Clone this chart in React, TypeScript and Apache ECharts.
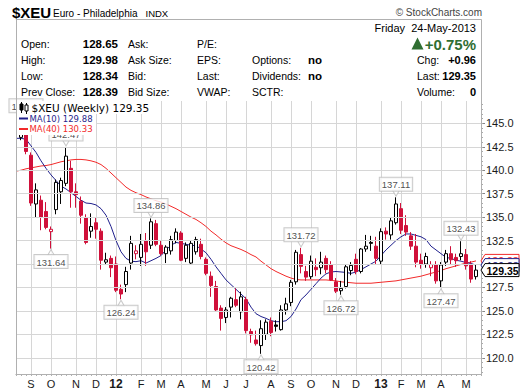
import React, { useEffect, useRef } from "react";
import * as echarts from "echarts";

// ---------- data ----------
const FIRST_WEEK_UTC = Date.UTC(2011, 7, 15); // Monday of first (empty) slot
const WEEK_COUNT = 94;
const PREV_CLOSE_BEFORE = 143.7;

const opens: (number | null)[] = [
  null, 143.5, 144.9, 141.6, 136.4, 136.8, 135.6, 133.45, 135.8, 137.7,
  138.6, 140.2, 137.7, 136.7, 134.9, 133.5, 134.4, 133.5, 130.2, 130.6,
  130.0, 127.3, 127.8, 130.1, 131.1, 130.7, 132.5, 132.0, 134.3, 132.0,
  131.1, 131.4, 132.5, 133.3, 130.6, 130.1, 131.3, 132.1, 130.5, 128.7,
  127.6, 125.3, 124.3, 125.4, 126.2, 124.9, 126.2, 122.8, 121.9, 121.3,
  122.5, 123.9, 123.5, 123.0, 125.1, 125.9, 128.1, 131.0, 129.2, 128.65,
  129.65, 129.6, 130.6, 129.9, 128.1, 127.15, 127.6, 129.3, 130.5, 129.2,
  131.6, 132.3, 131.9, 130.3, 133.5, 133.1, 134.4, 135.9, 134.1, 133.0,
  131.9, 130.4, 130.0, 129.6, 129.9, 128.2, 130.2, 131.1, 130.7, 130.8,
  131.0, 129.9, 128.65, null,
];
const highs: (number | null)[] = [
  null, 145.0, 145.49, 141.9, 138.6, 137.3, 136.6, 134.0, 139.0, 139.2,
  142.47, 141.0, 138.6, 137.2, 135.3, 135.4, 134.9, 133.8, 131.2, 130.9,
  130.8, 127.8, 129.7, 133.0, 132.0, 133.2, 133.3, 134.86, 134.7, 132.5,
  132.0, 133.0, 133.8, 133.5, 132.3, 132.5, 132.9, 132.7, 130.7, 129.2,
  128.2, 125.6, 125.4, 126.5, 127.4, 127.05, 126.5, 123.1, 122.9, 124.0,
  124.1, 124.3, 124.0, 125.6, 126.4, 128.3, 131.5, 131.72, 129.8, 130.9,
  130.6, 131.3, 130.9, 130.3, 128.5, 128.2, 130.0, 130.2, 131.1, 131.7,
  133.1, 133.0, 132.9, 133.8, 133.9, 135.0, 137.11, 136.5, 135.2, 133.4,
  133.2, 131.1, 131.2, 130.3, 130.3, 130.2, 131.5, 131.9, 131.1, 132.43,
  131.6, 130.3, 129.98, null,
];
const lows: (number | null)[] = [
  null, 143.2, 141.7, 136.2, 135.0, 133.6, 133.7, 131.64, 135.3, 136.4,
  138.3, 136.0, 136.0, 134.3, 132.1, 132.8, 132.7, 129.4, 129.9, 128.6,
  127.0, 126.24, 127.0, 129.4, 130.5, 129.8, 129.8, 131.6, 131.9, 130.9,
  130.1, 131.0, 132.2, 130.3, 130.2, 129.9, 131.0, 130.5, 128.8, 126.5,
  124.9, 122.9, 123.7, 124.3, 125.4, 124.1, 122.6, 121.6, 121.3, 120.42,
  121.9, 122.3, 122.8, 122.9, 124.6, 125.5, 127.8, 129.0, 128.2, 128.4,
  128.7, 128.9, 129.0, 128.2, 126.9, 126.72, 127.4, 128.8, 128.9, 129.0,
  131.3, 131.4, 129.9, 129.9, 132.6, 132.6, 134.2, 133.2, 133.0, 131.5,
  129.65, 129.5, 129.6, 128.7, 127.9, 127.47, 129.8, 129.9, 129.7, 130.4,
  129.4, 128.0, 128.34, null,
];
const closes: (number | null)[] = [
  null, 144.9, 142.0, 136.5, 137.9, 135.0, 133.9, 133.7, 138.7, 138.9,
  141.5, 137.7, 137.4, 135.2, 132.3, 134.0, 133.7, 130.4, 130.45, 129.6,
  127.2, 126.8, 129.2, 132.2, 131.4, 132.1, 131.3, 134.5, 132.1, 131.1,
  131.8, 132.6, 133.4, 130.4, 132.0, 132.2, 132.6, 130.8, 129.0, 127.7,
  125.1, 124.2, 125.1, 126.35, 125.6, 126.5, 122.9, 122.45, 121.5, 123.1,
  123.8, 122.7, 123.35, 125.1, 125.75, 128.05, 131.25, 129.75, 128.6, 130.3,
  129.4, 130.2, 129.4, 128.3, 127.1, 127.4, 129.7, 129.85, 129.2, 131.6,
  131.9, 132.2, 130.6, 133.45, 133.2, 134.6, 136.4, 133.6, 133.4, 131.9,
  130.2, 130.0, 130.8, 129.95, 128.2, 129.9, 131.1, 130.45, 130.35, 131.1,
  129.8, 128.39, 129.35, null,
];
const ma10: (number | null)[] = [
  143.4, 143.4, 143.3, 142.6, 141.9, 141.0, 140.2, 139.5, 138.9, 138.3,
  138.0, 137.6, 137.2, 136.8, 136.5, 136.45, 136.3, 135.9, 135.2, 134.0,
  132.5, 131.3, 130.6, 130.3, 130.25, 130.35, 130.1, 130.35, 130.6, 130.9,
  131.5, 132.0, 132.3, 132.2, 132.1, 132.0, 131.95, 131.6, 131.2, 130.5,
  129.7, 129.0, 128.3, 127.8, 127.3, 126.8, 126.3, 125.4, 124.7, 124.4,
  124.2, 123.95, 123.85, 123.85, 123.95, 124.4, 125.2, 126.2, 126.7, 127.3,
  127.9, 128.5, 128.95, 129.15, 129.2, 129.15, 129.1, 129.0, 129.15, 129.4,
  129.7, 130.0, 130.3, 130.9, 131.5, 132.0, 132.5, 132.9, 133.2, 133.2,
  133.05, 132.9, 132.6, 131.9, 131.5, 131.1, 130.7, 130.6, 130.4, 130.3,
  130.15, 130.05, 129.88, null,
];
const ma40: (number | null)[] = [
  139.9, 140.0, 140.15, 140.25, 140.35, 140.45, 140.5, 140.6, 140.75, 140.9,
  141.0, 141.1, 141.15, 141.15, 141.1, 141.0, 140.85, 140.6, 140.2, 139.7,
  139.2, 138.7, 138.2, 137.85, 137.6, 137.4, 137.15, 136.95, 136.75, 136.6,
  136.4, 136.15, 135.9, 135.6, 135.3, 135.0, 134.75, 134.4, 134.0, 133.5,
  133.1, 132.65, 132.25, 131.95, 131.75, 131.55, 131.3, 131.0, 130.75, 130.3,
  129.9, 129.5, 129.2, 128.95, 128.7, 128.5, 128.35, 128.3, 128.3, 128.3,
  128.3, 128.3, 128.3, 128.25, 128.2, 128.1, 128.05, 128.0, 127.95, 127.95,
  127.95, 127.95, 128.0, 128.05, 128.1, 128.15, 128.2, 128.3, 128.4, 128.5,
  128.6, 128.7, 128.85, 129.0, 129.15, 129.3, 129.5, 129.65, 129.8, 129.95,
  130.1, 130.2, 130.33, null,
];
// annotated extremes: [week index, value]
const highMarks: [number, number][] = [
  [2, 145.49], [10, 142.47], [27, 134.86], [57, 131.72], [76, 137.11], [89, 132.43],
];
const lowMarks: [number, number][] = [
  [7, 131.64], [21, 126.24], [49, 120.42], [65, 126.72], [85, 127.47],
];
const yTicks = [120, 122.5, 125, 127.5, 130, 132.5, 135, 137.5, 140, 142.5, 145];
const Y_MIN = 118.27;
const Y_MAX = 147.38;

const lastValues = { price: 129.35, ma10: 129.88, ma40: 130.33 };

// header quote table
const quoteLabelsA = ["Open:", "High:", "Low:", "Prev Close:"];
const quoteValuesA = ["128.65", "129.98", "128.34", "128.39"];
const quoteLabelsB = ["Ask:", "Ask Size:", "Bid:", "Bid Size:"];
const quoteLabelsC = ["P/E:", "EPS:", "Last:", "VWAP:"];
const quoteLabelsD = ["", "Options:", "Dividends:", "SCTR:"];
const quoteValuesD = ["", "no", "no", ""];
const quoteLabelsE = ["", "Chg:", "Last:", "Volume:"];
const quoteValuesE = ["", "+0.96", "129.35", "0"];
const dateText = "Friday  24-May-2013";
const pctText = "+0.75%";

// ---------- styling ----------
const RED = "#d0103a";
const BLACK = "#000000";
const NAVY = "#1f1f8c";
const MA40C = "#f22a2a";
const GRID = "#d6d6d6";
const AXIS = "#9a9a9a";
const GREEN = "#2f6e32";
const SANS = "Liberation Sans";
const VER = "DejaVu Sans";

const MONTHS = "JFMAMJJASOND";

function buildCategories() {
  const cats: string[] = [];
  const months: number[] = [];
  const years: number[] = [];
  for (let i = 0; i < WEEK_COUNT; i++) {
    const d = new Date(FIRST_WEEK_UTC + i * 7 * 86400000);
    cats.push(d.toISOString().slice(0, 10));
    months.push(d.getUTCMonth());
    years.push(d.getUTCFullYear());
  }
  const isStart = cats.map((_, i) => i > 0 && months[i] !== months[i - 1]);
  const label = cats.map((_, i) =>
    months[i] === 0 ? `{y|${String(years[i]).slice(2)}}` : MONTHS[months[i]]
  );
  return { cats, isStart, label };
}

function buildCandles() {
  return opens.map((o, i) => {
    const c = closes[i];
    if (o == null || c == null) return ["-", "-", "-", "-"];
    const prev = i === 1 ? PREV_CLOSE_BEFORE : (closes[i - 1] as number);
    const col = c >= prev ? BLACK : RED;
    const fill = c > o ? "#ffffff" : col;
    return {
      value: [o, c, lows[i], highs[i]],
      itemStyle: { color: fill, color0: fill, borderColor: col, borderColor0: col },
    };
  });
}

function txt(x: number, y: number, text: string, size: number, opts: any = {}) {
  return {
    type: "text",
    z: 100,
    silent: true,
    style: {
      x,
      y,
      text,
      fontSize: size,
      fontFamily: opts.family || SANS,
      fontWeight: opts.weight || "normal",
      fill: opts.color || "#000",
      align: opts.align || "left",
      verticalAlign: "middle",
    },
  };
}

function headerElements() {
  const els: any[] = [];
  els.push(txt(12, 12.5, "$XEU", 15, { weight: "bold" }));
  els.push(txt(53, 13, "Euro - Philadelphia", 10));
  els.push(txt(145.5, 13.5, "INDX", 9.5));
  els.push(txt(482, 12.5, "\u00A9 StockCharts.com", 10, { color: "#444", align: "right" }));
  els.push({
    type: "rect", z: 50, silent: true,
    shape: { x: 16.5, y: 19.5, width: 465, height: 355 },
    style: { fill: "none", stroke: "#b0b0b0", lineWidth: 1 },
  });
  els.push(txt(476, 28, dateText, 11, { align: "right" }));
  els.push({
    type: "polygon", z: 100, silent: true,
    shape: { points: [[411.5, 49.5], [417.5, 37.5], [423.5, 49.5]] },
    style: { fill: GREEN },
  });
  els.push(txt(476, 44, pctText, 15, { weight: "bold", color: GREEN, align: "right" }));
  const rows = [44, 60, 76, 92];
  rows.forEach((y, r) => {
    els.push(txt(21, y, quoteLabelsA[r], 10.5));
    els.push(txt(118, y, quoteValuesA[r], 11.5, { weight: "bold", align: "right" }));
    els.push(txt(128, y, quoteLabelsB[r], 10.5));
    els.push(txt(197, y, quoteLabelsC[r], 10.5));
    if (quoteLabelsD[r]) els.push(txt(252, y, quoteLabelsD[r], 10.5));
    if (quoteValuesD[r]) els.push(txt(308, y, quoteValuesD[r], 11.5, { weight: "bold" }));
    if (quoteLabelsE[r]) els.push(txt(417, y, quoteLabelsE[r], 10.5));
    if (quoteValuesE[r]) els.push(txt(476, y, quoteValuesE[r], 11, { weight: "bold", align: "right" }));
  });
  return els;
}

function legendElements() {
  const els: any[] = [];
  els.push({ type: "rect", z: 99, silent: true, shape: { x: 17, y: 101, width: 141, height: 13 }, style: { fill: "#fff" } });
  els.push({ type: "rect", z: 99, silent: true, shape: { x: 17, y: 113, width: 79, height: 22 }, style: { fill: "#fff" } });
  // tiny candle icon
  els.push({ type: "line", z: 100, silent: true, shape: { x1: 21.5, y1: 102, x2: 21.5, y2: 113 }, style: { stroke: "#000", lineWidth: 1 } });
  els.push({ type: "rect", z: 100, silent: true, shape: { x: 20, y: 104, width: 3, height: 6 }, style: { fill: "#000", stroke: "#000" } });
  els.push({ type: "line", z: 100, silent: true, shape: { x1: 26.5, y1: 103, x2: 26.5, y2: 114 }, style: { stroke: "#000", lineWidth: 1 } });
  els.push({ type: "rect", z: 100, silent: true, shape: { x: 25, y: 105, width: 3, height: 6 }, style: { fill: "#fff", stroke: "#000" } });
  els.push(txt(31.5, 108, `$XEU (Weekly) ${lastValues.price.toFixed(2)}`, 10.5, { family: VER }));
  els.push({ type: "line", z: 100, silent: true, shape: { x1: 19, y1: 118.5, x2: 28, y2: 118.5 }, style: { stroke: NAVY, lineWidth: 2 } });
  els.push(txt(29.5, 118.5, `MA(10) ${lastValues.ma10.toFixed(2)}`, 8.5, { family: VER, color: NAVY }));
  els.push({ type: "line", z: 100, silent: true, shape: { x1: 19, y1: 129, x2: 28, y2: 129 }, style: { stroke: MA40C, lineWidth: 2 } });
  els.push(txt(29.5, 129, `MA(40) ${lastValues.ma40.toFixed(2)}`, 8.5, { family: VER, color: MA40C }));
  return els;
}

function flag(y: number, text: string, color: string, bold: boolean) {
  const h = 6.5;
  return [
    {
      type: "polygon", z: 100, silent: true,
      shape: { points: [[481, y], [485, y - h], [519, y - h], [519, y + h], [485, y + h]] },
      style: { fill: "#fff", stroke: color, lineWidth: 1 },
    },
    txt(486.5, y + 0.5, text, 10.5, { color, weight: bold ? "bold" : "normal" }),
  ];
}

export default function App() {
  const ref = useRef<HTMLDivElement>(null);
  useEffect(() => {
    if (!ref.current) return;
    const chart = echarts.init(ref.current, null, { renderer: "svg" });
    const { cats, isStart, label } = buildCategories();
    const minorTicks: number[] = [];
    for (let v = 118.5; v < Y_MAX; v += 0.5) minorTicks.push(v);

    const option: any = {
      animation: false,
      backgroundColor: "#ffffff",
      textStyle: { fontFamily: SANS },
      grid: { left: 16, right: 39, top: 101, bottom: 17, containLabel: false },
      xAxis: {
        type: "category",
        data: cats,
        boundaryGap: false,
        axisLine: { show: true, lineStyle: { color: AXIS } },
        axisTick: { show: true, interval: 0, length: 2, lineStyle: { color: "#b0b0b0" } },
        axisLabel: {
          interval: (i: number) => isStart[i],
          formatter: (_v: string, i: number) => label[i],
          margin: 4,
          color: "#1a1a1a",
          fontSize: 11,
          fontFamily: SANS,
          rich: { y: { fontSize: 12, fontWeight: "bold", color: "#1a1a1a", fontFamily: SANS } },
        },
        splitLine: { show: true, interval: (i: number) => isStart[i], lineStyle: { color: GRID, width: 1 } },
      },
      yAxis: [
        {
          type: "value",
          position: "right",
          min: Y_MIN,
          max: Y_MAX,
          axisLine: { show: true, lineStyle: { color: AXIS } },
          axisTick: { show: true, length: 4, customValues: yTicks, lineStyle: { color: "#888" } },
          axisLabel: {
            customValues: yTicks,
            formatter: (v: number) => v.toFixed(1),
            margin: 5,
            color: "#1a1a1a",
            fontSize: 11,
            fontFamily: SANS,
          },
          splitLine: { show: false },
        },
        {
          type: "value",
          position: "right",
          min: Y_MIN,
          max: Y_MAX,
          axisLine: { show: false },
          axisTick: { show: true, length: 2, customValues: minorTicks, lineStyle: { color: "#aaa" } },
          axisLabel: { show: false },
          splitLine: { show: false },
        },
      ],
      series: [
        {
          type: "line",
          data: [],
          z: 1,
          silent: true,
          markLine: {
            silent: true,
            symbol: ["none", "none"],
            label: { show: false },
            lineStyle: { color: GRID, type: "solid", width: 1 },
            data: yTicks.map((v) => ({ yAxis: v })),
          },
        },
        {
          type: "line",
          data: ma40.map((v) => (v == null ? "-" : v)),
          showSymbol: false,
          symbol: "none",
          z: 2,
          silent: true,
          lineStyle: { color: MA40C, width: 1 },
        },
        {
          type: "line",
          data: ma10.map((v) => (v == null ? "-" : v)),
          showSymbol: false,
          symbol: "none",
          z: 2,
          silent: true,
          lineStyle: { color: NAVY, width: 1 },
        },
        {
          type: "candlestick",
          data: buildCandles(),
          barWidth: 3,
          z: 3,
          silent: true,
          itemStyle: { borderWidth: 1 },
        },
        {
          type: "scatter",
          data: highMarks.map(([i, v]) => [i, v]),
          symbol: "triangle",
          symbolSize: [7, 6],
          symbolRotate: 180,
          symbolOffset: [0, -4],
          z: 5,
          silent: true,
          itemStyle: { color: "#fff", borderColor: "#bdbdbd", borderWidth: 1 },
        },
        {
          type: "scatter",
          data: lowMarks.map(([i, v]) => [i, v]),
          symbol: "triangle",
          symbolSize: [7, 6],
          symbolOffset: [0, 4],
          z: 5,
          silent: true,
          itemStyle: { color: "#fff", borderColor: "#bdbdbd", borderWidth: 1 },
        },
        {
          type: "scatter",
          data: highMarks.map(([i, v]) => [i, v]),
          symbolSize: 1,
          z: 6,
          silent: true,
          itemStyle: { color: "rgba(0,0,0,0)" },
          label: {
            show: true,
            position: "top",
            distance: 6,
            formatter: (p: any) => p.value[1].toFixed(2),
            backgroundColor: "#fff",
            borderColor: "#bdbdbd",
            borderWidth: 1,
            padding: [2, 2, 1, 2],
            color: "#222",
            fontSize: 9.5,
            fontFamily: SANS,
          },
        },
        {
          type: "scatter",
          data: lowMarks.map(([i, v]) => [i, v]),
          symbolSize: 1,
          z: 6,
          silent: true,
          itemStyle: { color: "rgba(0,0,0,0)" },
          label: {
            show: true,
            position: "bottom",
            distance: 6,
            formatter: (p: any) => p.value[1].toFixed(2),
            backgroundColor: "#fff",
            borderColor: "#bdbdbd",
            borderWidth: 1,
            padding: [2, 2, 1, 2],
            color: "#222",
            fontSize: 9.5,
            fontFamily: SANS,
          },
        },
      ],
    };
    chart.setOption(option);
    const toY = (v: number) => chart.convertToPixel({ yAxisIndex: 0 }, v) as number;
    const elements = [
      ...headerElements(),
      ...legendElements(),
      ...flag(toY(lastValues.ma40), lastValues.ma40.toFixed(2), MA40C, false),
      ...flag(toY(lastValues.ma10), lastValues.ma10.toFixed(2), NAVY, false),
      ...flag(toY(lastValues.price), lastValues.price.toFixed(2), BLACK, true),
    ];
    chart.setOption({ graphic: { elements } });
    return () => chart.dispose();
  }, []);
  return (
    <div
      ref={ref}
      style={{ position: "absolute", left: 0, top: 0, width: 520, height: 391, background: "#fff" }}
    />
  );
}
